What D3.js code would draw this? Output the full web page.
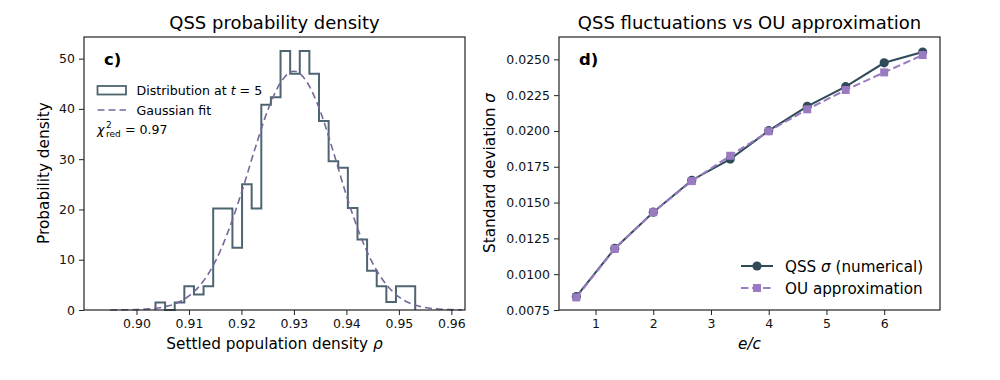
<!DOCTYPE html>
<html>
<head>
<meta charset="utf-8">
<script src="https://cdn.jsdelivr.net/npm/d3@7"></script>
<style>
  body { margin: 0; background: #fff; }
  svg { font-family: 'DejaVu Sans', sans-serif; }
</style>
</head>
<body>
<svg id="fig" width="1000" height="380"></svg>
<script>
// ---- data: left panel, histogram (density) ----
var binStart = 0.90362;
var binWidth = 0.001833;
var histDensity = [1.5, 0, 1.5, 4.7, 3.1, 4.7, 20.2, 20.2, 12.4, 25.0, 20.2, 40.8, 42.3, 51.5,
    47.0, 51.5, 47.0, 37.6, 29.6, 28.3, 20.3, 14.0, 7.8, 4.7, 1.6, 4.7, 4.7];

// gaussian fit
var fitX = [0.895, 0.8975, 0.900, 0.9025, 0.905, 0.9075, 0.910, 0.9125, 0.915, 0.9175, 0.920,
    0.9225, 0.925, 0.9275, 0.930, 0.9325, 0.935, 0.9375, 0.940, 0.9425, 0.945, 0.9475, 0.950,
    0.9525, 0.955, 0.9575, 0.960, 0.962];
var fitY = [0.01, 0.03, 0.08, 0.22, 0.57, 1.3, 2.8, 5.4, 9.6, 15.7, 23.3, 31.8, 39.7, 45.3,
    47.5, 45.3, 39.6, 31.5, 22.8, 15.2, 9.3, 5.2, 2.6, 1.2, 0.5, 0.2, 0.07, 0.03];

var histXTicks = [0.90, 0.91, 0.92, 0.93, 0.94, 0.95, 0.96];
var histYTicks = [0, 10, 20, 30, 40, 50];

// ---- data: right panel ----
var ecRatio = [0.667, 1.333, 2.0, 2.667, 3.333, 4.0, 4.667, 5.333, 6.0, 6.667];
var sigmaNumerical = [0.00844, 0.01180, 0.01433, 0.01656, 0.01804, 0.02002, 0.02172, 0.02309, 0.02476, 0.02551];
var sigmaOU = [0.00838, 0.01177, 0.01433, 0.01650, 0.01827, 0.01998, 0.02151, 0.02286, 0.02409, 0.02530];
var sdXTicks = [1, 2, 3, 4, 5, 6];
var sdYTicks = [0.0075, 0.0100, 0.0125, 0.0150, 0.0175, 0.0200, 0.0225, 0.0250];

var histColor = '#4d6571';
var fitColor = '#76679a';
var numColor = '#2f4b58';
var ouColor = '#9a7bc2';
var spineColor = '#222';

var svg = d3.select('#fig');

const drawFrame = (g, x, y, xTicks, yTicks, xFmt, yFmt) => {
    var xAxis = g.append('g')
        .attr('transform', 'translate(0,' + y.range()[0] + ')')
        .call(d3.axisBottom(x).tickValues(xTicks).tickFormat(xFmt).tickSize(5).tickPadding(4));
    var yAxis = g.append('g')
        .attr('transform', 'translate(' + x.range()[0] + ',0)')
        .call(d3.axisLeft(y).tickValues(yTicks).tickFormat(yFmt).tickSize(5).tickPadding(4));
    [xAxis, yAxis].forEach(a => {
        a.select('.domain').remove();
        a.selectAll('line').attr('stroke', spineColor).attr('stroke-width', 1);
        a.selectAll('text').attr('fill', '#111').style('font-size', '12.5px')
            .style('font-family', 'DejaVu Sans');
    });
    g.append('rect')
        .attr('x', x.range()[0]).attr('y', y.range()[1])
        .attr('width', x.range()[1] - x.range()[0])
        .attr('height', y.range()[0] - y.range()[1])
        .attr('fill', 'none').attr('stroke', spineColor).attr('stroke-width', 1.2);
};

// ================= left panel =================
var gL = svg.append('g');
var xL = d3.scaleLinear().domain([0.8900, 0.9626]).range([84, 465]);
var yL = d3.scaleLinear().domain([0, 54.3]).range([310, 37]);

// histogram as a step outline
var stepPts = [[binStart, 0]];
histDensity.forEach((d, i) => {
    stepPts.push([binStart + i * binWidth, d]);
    stepPts.push([binStart + (i + 1) * binWidth, d]);
});
stepPts.push([binStart + histDensity.length * binWidth, 0]);

gL.append('path')
    .datum(stepPts)
    .attr('fill', 'none')
    .attr('stroke', histColor)
    .attr('stroke-width', 2)
    .attr('stroke-linejoin', 'miter')
    .attr('d', d3.line().x(d => xL(d[0])).y(d => yL(d[1])));

gL.append('path')
    .datum(fitX.map((x, i) => [x, fitY[i]]))
    .attr('fill', 'none')
    .attr('stroke', fitColor)
    .attr('stroke-width', 1.6)
    .attr('stroke-dasharray', '7,4')
    .attr('d', d3.line().curve(d3.curveMonotoneX).x(d => xL(d[0])).y(d => yL(d[1])));

drawFrame(gL, xL, yL, histXTicks, histYTicks, d3.format('.2f'), d3.format('d'));

gL.append('text').attr('x', 274.5).attr('y', 29).attr('text-anchor', 'middle')
    .style('font-size', '18px').text('QSS probability density');
gL.append('text').attr('x', 274.5).attr('y', 349).attr('text-anchor', 'middle')
    .style('font-size', '15.3px')
    .call(t => {
        t.append('tspan').text('Settled population density ');
        t.append('tspan').style('font-style', 'italic').text('ρ');
    });
gL.append('text').attr('transform', 'translate(49,173) rotate(-90)').attr('text-anchor', 'middle')
    .style('font-size', '15.3px').text('Probability density');
gL.append('text').attr('x', 104).attr('y', 65).style('font-size', '16.5px')
    .style('font-weight', 'bold').text('c)');

// legend
gL.append('rect').attr('x', 97.5).attr('y', 86).attr('width', 28.5).attr('height', 8.5)
    .attr('fill', '#fdfefe').attr('stroke', histColor).attr('stroke-width', 1.8);
gL.append('line').attr('x1', 97.5).attr('x2', 126).attr('y1', 110).attr('y2', 110)
    .attr('stroke', fitColor).attr('stroke-width', 1.6).attr('stroke-dasharray', '7,4');
gL.append('text').attr('x', 136.5).attr('y', 94.5).style('font-size', '12.6px')
    .call(t => {
        t.append('tspan').text('Distribution at ');
        t.append('tspan').style('font-style', 'italic').text('t');
        t.append('tspan').text(' = 5');
    });
gL.append('text').attr('x', 136.5).attr('y', 114.5).style('font-size', '12.6px').text('Gaussian fit');
var chi = gL.append('text').attr('x', 97).attr('y', 134).style('font-size', '12.6px');
chi.append('tspan').style('font-style', 'italic').text('χ');
chi.append('tspan').attr('x', 106).attr('y', 128).style('font-size', '9px').text('2');
chi.append('tspan').attr('x', 106).attr('y', 137).style('font-size', '9px').text('red');
chi.append('tspan').attr('x', 125).attr('y', 134).text('= 0.97');

// ================= right panel =================
var gR = svg.append('g');
var xR = d3.scaleLinear().domain([0.367, 6.967]).range([559, 940]);
var yR = d3.scaleLinear().domain([0.00750, 0.02656]).range([310, 37]);

var lineR = d3.line().x(d => xR(d[0])).y(d => yR(d[1]));
var numPts = ecRatio.map((x, i) => [x, sigmaNumerical[i]]);
var ouPts = ecRatio.map((x, i) => [x, sigmaOU[i]]);

gR.append('path').datum(numPts).attr('fill', 'none').attr('stroke', numColor)
    .attr('stroke-width', 2).attr('d', lineR);
gR.selectAll('.num').data(numPts).enter().append('circle').attr('class', 'num')
    .attr('cx', d => xR(d[0])).attr('cy', d => yR(d[1])).attr('r', 4.6).attr('fill', numColor);

gR.append('path').datum(ouPts).attr('fill', 'none').attr('stroke', ouColor)
    .attr('stroke-width', 2).attr('stroke-dasharray', '7.5,3.5').attr('d', lineR);
gR.selectAll('.ou').data(ouPts).enter().append('rect').attr('class', 'ou')
    .attr('x', d => xR(d[0]) - 4).attr('y', d => yR(d[1]) - 4)
    .attr('width', 8).attr('height', 8).attr('fill', ouColor);

drawFrame(gR, xR, yR, sdXTicks, sdYTicks, d3.format('d'), d3.format('.4f'));

gR.append('text').attr('x', 749.5).attr('y', 29).attr('text-anchor', 'middle')
    .style('font-size', '18px').text('QSS fluctuations vs OU approximation');
gR.append('text').attr('x', 749.5).attr('y', 349).attr('text-anchor', 'middle')
    .style('font-size', '15.3px').style('font-style', 'italic').text('e/c');
gR.append('text').attr('transform', 'translate(495,173) rotate(-90)').attr('text-anchor', 'middle')
    .style('font-size', '15.3px')
    .call(t => {
        t.append('tspan').text('Standard deviation ');
        t.append('tspan').style('font-style', 'italic').text('σ');
    });
gR.append('text').attr('x', 579).attr('y', 65).style('font-size', '16.5px')
    .style('font-weight', 'bold').text('d)');

// legend
gR.append('line').attr('x1', 741).attr('x2', 773).attr('y1', 266).attr('y2', 266)
    .attr('stroke', numColor).attr('stroke-width', 2);
gR.append('circle').attr('cx', 757).attr('cy', 266).attr('r', 4.6).attr('fill', numColor);
gR.append('line').attr('x1', 741).attr('x2', 773).attr('y1', 288).attr('y2', 288)
    .attr('stroke', ouColor).attr('stroke-width', 2).attr('stroke-dasharray', '7.5,3.5');
gR.append('rect').attr('x', 753).attr('y', 284).attr('width', 8).attr('height', 8).attr('fill', ouColor);
gR.append('text').attr('x', 785).attr('y', 271.5).style('font-size', '15.2px')
    .call(t => {
        t.append('tspan').text('QSS ');
        t.append('tspan').style('font-style', 'italic').text('σ');
        t.append('tspan').text(' (numerical)');
    });
gR.append('text').attr('x', 785).attr('y', 293.5).style('font-size', '15.2px').text('OU approximation');
</script>
</body>
</html>
